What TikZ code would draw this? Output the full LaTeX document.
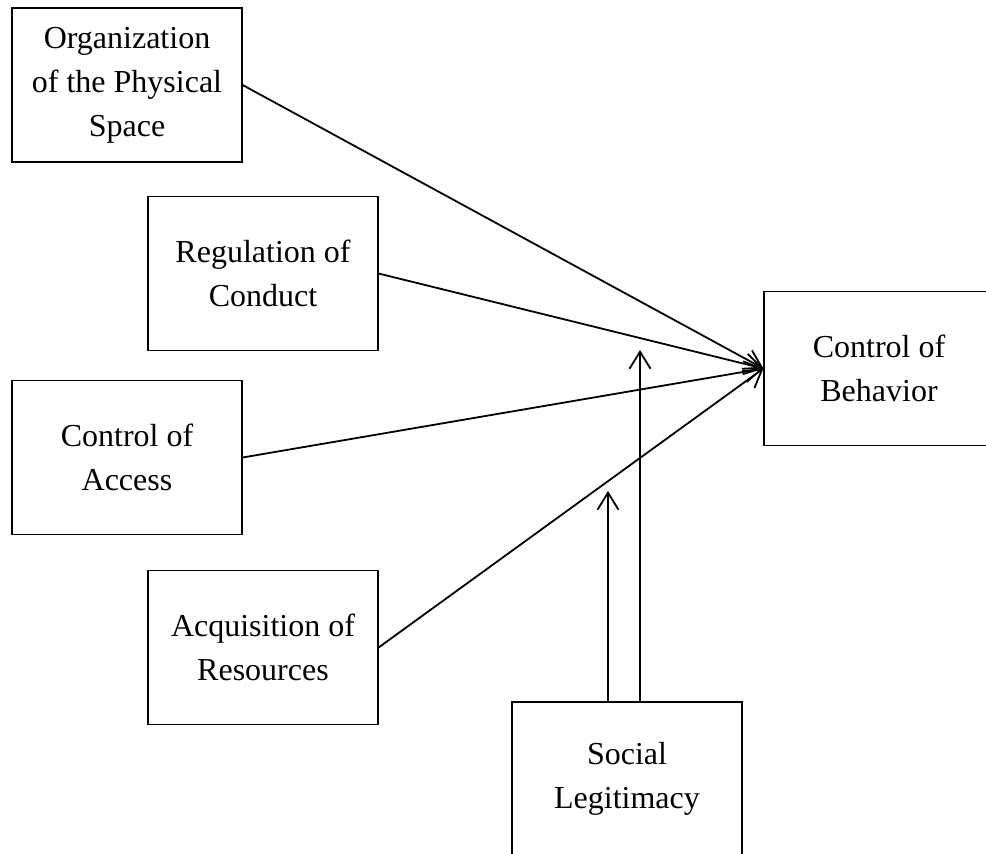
\documentclass[tikz,border=0pt]{standalone}
\usepackage{fontspec}
\setmainfont{Liberation Serif}
\usetikzlibrary{arrows.meta}
\begin{document}
\begin{tikzpicture}[x=0.5pt,y=-0.5pt,
  box/.style={draw,line width=0.6pt,minimum width=115pt,minimum height=77pt,
    align=center,inner sep=0pt,font=\fontsize{16}{22}\selectfont},
  conn/.style={line width=0.9pt,-{Straight Barb[length=8.5pt,width=10.5pt,line width=0.9pt]}}]
\useasboundingbox (0,0) rectangle (986,853);
\begin{scope}
\clip (0,0) rectangle (986,853);
\node[box] (org) at (127,85) {Organization\\of the Physical\\Space};
\node[box] (reg) at (263,273.5) {Regulation of\\Conduct};
\node[box] (acc) at (127,457.5) {Control of\\Access};
\node[box] (acq) at (263,647.5) {Acquisition of\\Resources};
\node[box] (beh) at (879,368.5) {Control of\\Behavior};
\node[box] (soc) at (627,779) {Social\\Legitimacy};
\end{scope}
\coordinate (t1) at (640,350);
\coordinate (t2) at (608,491);
\draw[conn] (org.east) -- (beh.west);
\draw[conn] (reg.east) -- (beh.west);
\draw[conn] (acc.east) -- (beh.west);
\draw[conn] (acq.east) -- (beh.west);
\draw[conn] (soc.north -| t1) -- (t1);
\draw[conn] (soc.north -| t2) -- (t2);
\end{tikzpicture}
\end{document}
